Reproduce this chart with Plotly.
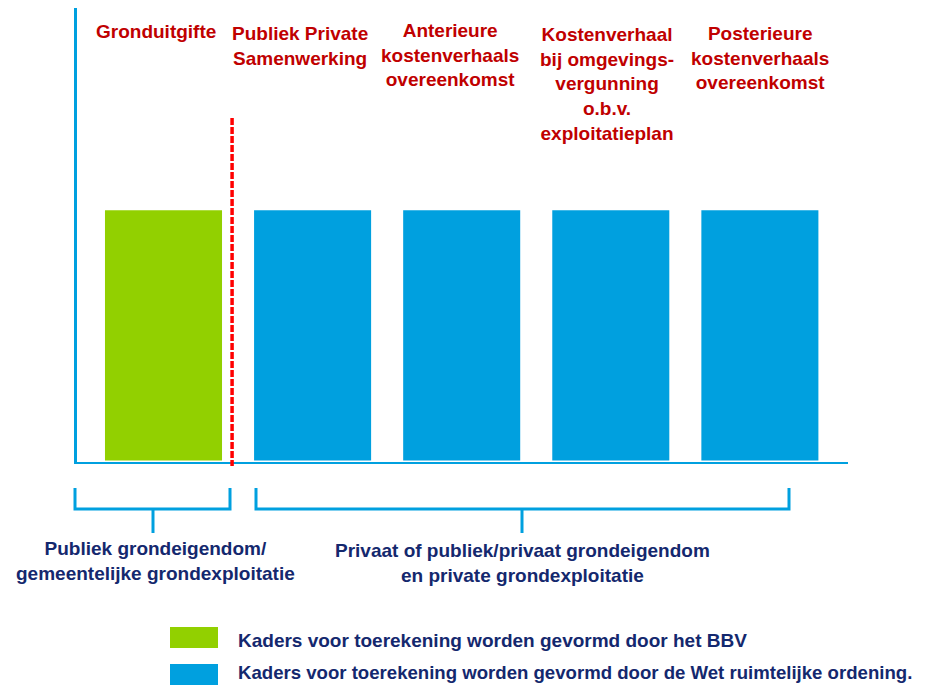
import plotly.graph_objects as go

# target picture size and browser body margin (page offset)
W_PIC, H_PIC = 931, 685
OFF = 8
W, H = W_PIC - OFF, H_PIC - OFF

# ---------------- data ----------------
categories = [
    "Gronduitgifte",
    "Publiek Private Samenwerking",
    "Anterieure kostenverhaals overeenkomst",
    "Kostenverhaal bij omgevingsvergunning o.b.v. exploitatieplan",
    "Posterieure kostenverhaals overeenkomst",
]
category_labels = [
    "Gronduitgifte",
    "Publiek Private<br>Samenwerking",
    "Anterieure<br>kostenverhaals<br>overeenkomst",
    "Kostenverhaal<br>bij omgevings-<br>vergunning<br>o.b.v.<br>exploitatieplan",
    "Posterieure<br>kostenverhaals<br>overeenkomst",
]
values = [1, 1, 1, 1, 1]
kader = ["BBV", "Wro", "Wro", "Wro", "Wro"]

group_labels = [
    "Publiek grondeigendom/<br>gemeentelijke grondexploitatie",
    "Privaat of publiek/privaat grondeigendom<br>en private grondexploitatie",
]
legend_labels = {
    "BBV": "Kaders voor toerekening worden gevormd door het BBV",
    "Wro": "Kaders voor toerekening worden gevormd door de Wet ruimtelijke ordening.",
}

# ---------------- styles ----------------
GREEN = "#92D000"
BLUE = "#00A0DF"
RED_TXT = "#C00000"
RED_LINE = "#FF0000"
NAVY = "#14286E"
FONT = "Liberation Sans, Arial, sans-serif"
colors = {"BBV": GREEN, "Wro": BLUE}


def px(x):
    return (x - OFF) / W


def py(y):
    return 1 - (y - OFF) / H


fig = go.Figure()
fig.add_trace(go.Bar(
    x=categories,
    y=values,
    marker=dict(color=[colors[k] for k in kader], line=dict(width=0)),
    showlegend=False,
    hoverinfo="x",
))

shapes = []
annotations = []

# red dashed divider between first and second category
shapes.append(dict(type="line", xref="x", yref="paper",
                   x0=0.46, x1=0.46, y0=py(118), y1=py(466),
                   line=dict(color=RED_LINE, width=3.5, dash="7px,2px"),
                   layer="above"))

# category labels on top
label_pos = [(156, 19), (300, 21), (450, 18), (607, 22), (760, 21)]
for (cx, ty), lab in zip(label_pos, category_labels):
    annotations.append(dict(xref="paper", yref="paper", x=px(cx), y=py(ty),
                            xanchor="center", yanchor="top", showarrow=False,
                            text="<b>" + lab + "</b>", align="center",
                            font=dict(family=FONT, size=19, color=RED_TXT)))

# brackets
brackets = [(75, 230, 153), (256, 789, 522)]
for x0, x1, xs in brackets:
    path = (f"M {px(x0)},{py(488)} L {px(x0)},{py(509)} L {px(x1)},{py(509)} "
            f"L {px(x1)},{py(488)}")
    shapes.append(dict(type="path", xref="paper", yref="paper", path=path,
                       line=dict(color=BLUE, width=3)))
    shapes.append(dict(type="line", xref="paper", yref="paper",
                       x0=px(xs), x1=px(xs), y0=py(509), y1=py(533),
                       line=dict(color=BLUE, width=3)))

group_pos = [(155, 536), (522, 538)]
for (cx, ty), lab in zip(group_pos, group_labels):
    annotations.append(dict(xref="paper", yref="paper", x=px(cx), y=py(ty),
                            xanchor="center", yanchor="top", showarrow=False,
                            text="<b>" + lab + "</b>", align="center",
                            font=dict(family=FONT, size=19, color=NAVY)))

# custom legend
leg_rows = [("BBV", 627, 648, 640, 19), ("Wro", 664, 686, 672, 18.6)]
for key, y0, y1, yc, fs in leg_rows:
    shapes.append(dict(type="rect", xref="paper", yref="paper",
                       x0=px(170), x1=px(218), y0=py(y1), y1=py(y0),
                       fillcolor=colors[key], line=dict(width=0)))
    annotations.append(dict(xref="paper", yref="paper", x=px(236), y=py(yc),
                            xanchor="left", yanchor="middle", showarrow=False,
                            text="<b>" + legend_labels[key] + "</b>",
                            font=dict(family=FONT, size=fs, color=NAVY)))

fig.update_layout(
    width=W, height=H,
    margin=dict(l=0, r=0, t=0, b=0),
    paper_bgcolor="white", plot_bgcolor="white",
    bargap=0.215,
    shapes=shapes,
    annotations=annotations,
    xaxis=dict(domain=[px(76.5), px(848)], range=[-0.5835, 4.591],
               type="category", showticklabels=False, ticks="",
               showgrid=False, zeroline=False,
               showline=True, linecolor=BLUE, linewidth=2,
               layer="below traces", fixedrange=True),
    yaxis=dict(domain=[py(462), 1.0], range=[-0.006, 1.809],
               showticklabels=False, ticks="", showgrid=False,
               zeroline=False, showline=True, linecolor=BLUE, linewidth=3,
               layer="below traces", fixedrange=True),
)

fig.write_html("out.html")
